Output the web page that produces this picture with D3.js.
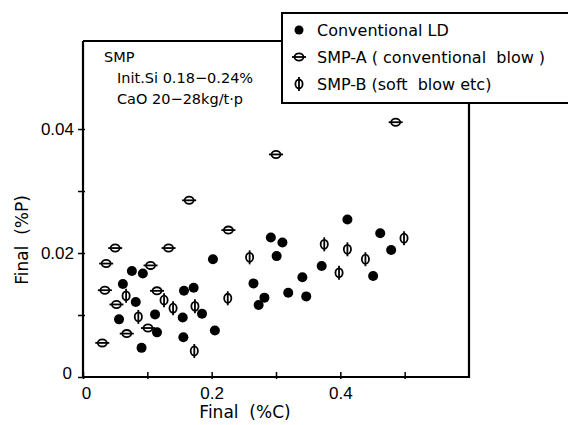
<!DOCTYPE html>
<html>
<head>
<meta charset="utf-8">
<script src="https://cdn.jsdelivr.net/npm/d3@7"></script>
<style>
  body { margin: 0; background: #fff; }
  svg { display: block; font-family: "DejaVu Sans", sans-serif; }
  text { white-space: pre; }
</style>
</head>
<body>
<script>
// final carbon vs final phosphorus, three practice groups
var ldC = [0.411, 0.462, 0.479, 0.451, 0.292, 0.310, 0.301, 0.202, 0.341, 0.371, 0.347, 0.319, 0.265, 0.282, 0.273, 0.205, 0.172, 0.157, 0.185, 0.155, 0.156, 0.076, 0.093, 0.062, 0.082, 0.112, 0.056, 0.115, 0.091];
var ldP = [0.0254, 0.0232, 0.0205, 0.0163, 0.0225, 0.0217, 0.0195, 0.0190, 0.0161, 0.0179, 0.0130, 0.0136, 0.0151, 0.0128, 0.0116, 0.0075, 0.0144, 0.0139, 0.0102, 0.0096, 0.0064, 0.0171, 0.0167, 0.0150, 0.0121, 0.0101, 0.0093, 0.0072, 0.0047];

var smpAC = [0.486, 0.300, 0.165, 0.226, 0.133, 0.050, 0.036, 0.105, 0.034, 0.115, 0.052, 0.101, 0.068, 0.030];
var smpAP = [0.0411, 0.0359, 0.0285, 0.0237, 0.0208, 0.0208, 0.0183, 0.0180, 0.0140, 0.0139, 0.0117, 0.0079, 0.0070, 0.0055];

var smpBC = [0.499, 0.375, 0.411, 0.439, 0.398, 0.259, 0.225, 0.174, 0.173, 0.067, 0.086, 0.126, 0.140];
var smpBP = [0.0224, 0.0214, 0.0206, 0.0190, 0.0168, 0.0193, 0.0127, 0.0114, 0.0042, 0.0131, 0.0097, 0.0124, 0.0111];

var xTicks = [0, 0.1, 0.2, 0.3, 0.4, 0.5];
var xLabels = ["0", "", "0.2", "", "0.4", ""];
var yTicks = [0, 0.01, 0.02, 0.03, 0.04];
var yLabels = ["0", "", "0.02", "", "0.04"];

var legendNames = ["Conventional LD", "SMP-A ( conventional  blow )", "SMP-B (soft  blow etc)"];
var noteLines = ["SMP", "Init.Si 0.18\u22120.24%", "CaO 20\u221228kg/t\u00b7p"];

var w = 568, h = 425;
var mLeft = 83, mRight = 469, mTop = 41, mBottom = 377;

var x = d3.scaleLinear().domain([0, 0.6]).range([mLeft, mRight]);
var y = d3.scaleLinear().domain([0, 0.0542]).range([mBottom, mTop]);

var svg = d3.select("body").append("svg")
    .attr("width", w)
    .attr("height", h);

function pairs(xs, ys) {
    return xs.map(function(v, i) { return [v, ys[i]]; });
}

// frame
svg.append("path")
    .attr("d", "M" + mLeft + "," + mTop + "V" + mBottom + "H" + mRight + "V" + mTop + "H" + mLeft)
    .attr("fill", "none")
    .attr("stroke", "#000")
    .attr("stroke-width", 2.2);

// axes
var xAxis = svg.append("g")
    .attr("transform", "translate(0," + mBottom + ")")
    .call(d3.axisBottom(x).tickValues(xTicks).tickSize(4).tickPadding(6)
        .tickFormat(function(d, i) { return xLabels[i]; }));
xAxis.select(".domain").remove();
xAxis.selectAll(".tick line").attr("y1", -5).attr("y2", 2).attr("stroke-width", 1.5);
xAxis.selectAll(".tick text").attr("font-size", 17).attr("fill", "#000");
xAxis.selectAll(".tick text").filter(function(d) { return d === 0; }).attr("x", 3);

var yAxis = svg.append("g")
    .attr("transform", "translate(" + mLeft + ",0)")
    .call(d3.axisLeft(y).tickValues(yTicks).tickSize(4).tickPadding(5)
        .tickFormat(function(d, i) { return yLabels[i]; }));
yAxis.select(".domain").remove();
yAxis.selectAll(".tick line").attr("x1", -5).attr("x2", 2).attr("stroke-width", 1.5);
yAxis.selectAll(".tick text").attr("font-size", 17).attr("fill", "#000");
yAxis.selectAll(".tick text").filter(function(d) { return d === 0; })
    .attr("x", -11).attr("dy", "0.1em");

// axis titles
svg.append("text")
    .attr("x", 245).attr("y", 418)
    .attr("text-anchor", "middle")
    .attr("font-size", 17)
    .text("Final  (%C)");

svg.append("text")
    .attr("transform", "translate(28,240) rotate(-90)")
    .attr("text-anchor", "middle")
    .attr("font-size", 17)
    .text("Final  (%P)");

// note
svg.selectAll("text.note")
    .data(noteLines)
    .enter()
    .append("text")
    .attr("class", "note")
    .attr("x", function(d, i) { return i === 0 ? 104 : 117; })
    .attr("y", function(d, i) { return 62 + i * 21; })
    .attr("font-size", 14.5)
    .text(function(d) { return d; });

// markers
function drawA(g) {
    g.append("line").attr("x1", -7).attr("x2", 7).attr("y1", 0).attr("y2", 0);
    g.append("ellipse").attr("rx", 4.5).attr("ry", 3.6).attr("fill", "#fff");
    g.append("line").attr("x1", -4).attr("x2", 4).attr("y1", 0).attr("y2", 0);
}
function drawB(g) {
    g.append("line").attr("x1", 0).attr("x2", 0).attr("y1", -7).attr("y2", 7);
    g.append("ellipse").attr("rx", 3.6).attr("ry", 4.5).attr("fill", "#fff");
    g.append("line").attr("x1", 0).attr("x2", 0).attr("y1", -4).attr("y2", 4);
}

svg.append("g").selectAll("circle")
    .data(pairs(ldC, ldP))
    .enter()
    .append("circle")
    .attr("cx", function(d) { return x(d[0]); })
    .attr("cy", function(d) { return y(d[1]); })
    .attr("r", 5)
    .attr("fill", "#000");

svg.append("g").selectAll("g")
    .data(pairs(smpAC, smpAP))
    .enter()
    .append("g")
    .attr("transform", function(d) { return "translate(" + x(d[0]) + "," + y(d[1]) + ")"; })
    .attr("stroke", "#000")
    .attr("stroke-width", 1.8)
    .each(function() { drawA(d3.select(this)); });

svg.append("g").selectAll("g")
    .data(pairs(smpBC, smpBP))
    .enter()
    .append("g")
    .attr("transform", function(d) { return "translate(" + x(d[0]) + "," + y(d[1]) + ")"; })
    .attr("stroke", "#000")
    .attr("stroke-width", 1.8)
    .each(function() { drawB(d3.select(this)); });

// legend box
var legend = svg.append("g");
legend.append("rect")
    .attr("x", 282).attr("y", 13)
    .attr("width", 300).attr("height", 90)
    .attr("fill", "#fff")
    .attr("stroke", "#000")
    .attr("stroke-width", 2);

legend.selectAll("text")
    .data(legendNames)
    .enter()
    .append("text")
    .attr("x", 317)
    .attr("y", function(d, i) { return 36 + i * 27; })
    .attr("font-size", 16)
    .text(function(d) { return d; });

legend.append("circle").attr("cx", 299).attr("cy", 30).attr("r", 4.5).attr("fill", "#000");
drawA(legend.append("g").attr("transform", "translate(299,57)").attr("stroke", "#000").attr("stroke-width", 1.8));
drawB(legend.append("g").attr("transform", "translate(299,84)").attr("stroke", "#000").attr("stroke-width", 1.8));
</script>
</body>
</html>
